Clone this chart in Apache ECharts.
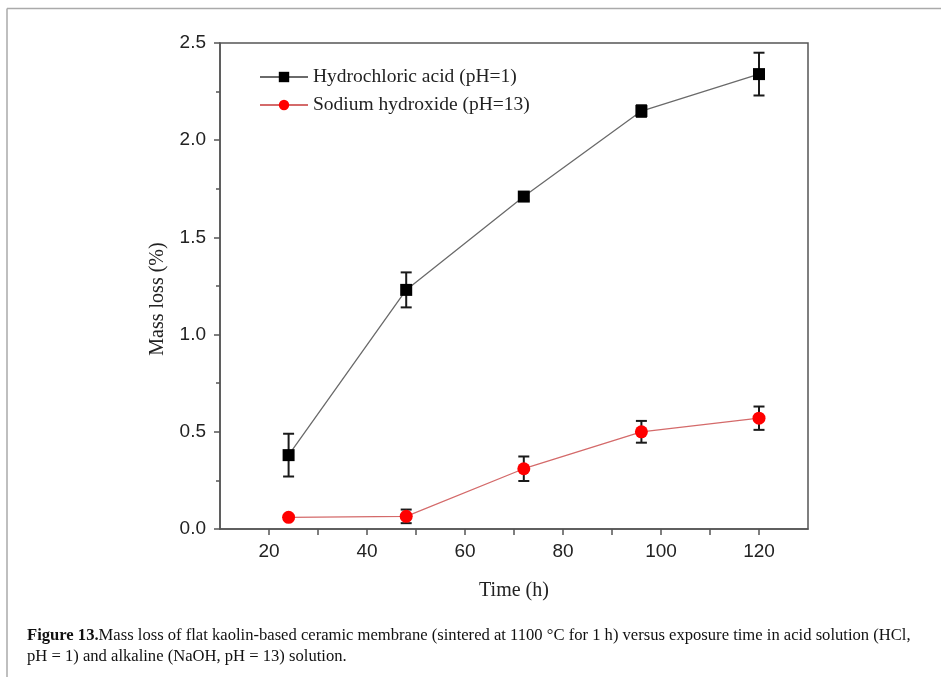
<!DOCTYPE html>
<html>
<head>
<meta charset="utf-8">
<script src="https://cdn.jsdelivr.net/npm/echarts@6/dist/echarts.min.js"></script>
<style>html,body{margin:0;padding:0;background:#fff}#c{width:941px;height:677px}</style>
</head>
<body>
<div id="c"></div>
<script>
const timeH = [24, 48, 72, 96, 120];
const hclLoss = [0.38, 1.23, 1.71, 2.15, 2.34];
const hclErr = [0.11, 0.09, 0.02, 0.03, 0.11];
const naohLoss = [0.06, 0.065, 0.31, 0.50, 0.57];
const naohErr = [0.01, 0.035, 0.063, 0.056, 0.06];
const xLabels = [20, 40, 60, 80, 100, 120];
const xTicks = [20, 30, 40, 50, 60, 70, 80, 90, 100, 110, 120];
const seriesNames = ['Hydrochloric acid (pH=1)', 'Sodium hydroxide (pH=13)'];

function pts(ys) { return timeH.map((t, i) => [t, ys[i]]); }
function errs(ys, es) { return timeH.map((t, i) => [t, ys[i] - es[i], ys[i] + es[i]]); }

function errRender(params, api) {
  const x = api.value(0);
  const lo = api.coord([x, api.value(1)]);
  const hi = api.coord([x, api.value(2)]);
  const w = 5.5;
  const st = { stroke: '#1a1a1a', lineWidth: 2 };
  return {
    type: 'group',
    children: [
      { type: 'line', shape: { x1: lo[0], y1: lo[1], x2: hi[0], y2: hi[1] }, style: st },
      { type: 'line', shape: { x1: lo[0] - w, y1: lo[1], x2: lo[0] + w, y2: lo[1] }, style: st },
      { type: 'line', shape: { x1: hi[0] - w, y1: hi[1], x2: hi[0] + w, y2: hi[1] }, style: st }
    ]
  };
}

const chart = echarts.init(document.getElementById('c'), null, { renderer: 'canvas' });
const axisCol = '#555';
const sans = 'Liberation Sans';
const serif = 'Liberation Serif';

chart.setOption({
  animation: false,
  backgroundColor: '#fff',
  grid: { left: 220, right: 133, top: 43, bottom: 148, show: true, borderColor: axisCol, borderWidth: 1.5, containLabel: false },
  legend: {
    orient: 'vertical', left: 254, top: 62, itemGap: 8, itemWidth: 48, itemHeight: 13,
    textStyle: { fontFamily: serif, fontSize: 19.5, color: '#222' },
    data: seriesNames
  },
  xAxis: {
    type: 'value', min: 10, max: 130, interval: 10,
    name: 'Time (h)', nameLocation: 'middle', nameGap: 52,
    nameTextStyle: { fontFamily: serif, fontSize: 20, color: '#222' },
    axisLine: { show: true, onZero: false, lineStyle: { color: axisCol, width: 1.5 } },
    axisTick: { show: true, inside: false, length: 6, customValues: xTicks, lineStyle: { color: axisCol, width: 1.5 } },
    axisLabel: { customValues: xLabels, margin: 13, fontFamily: sans, fontSize: 19, color: '#222' },
    splitLine: { show: false }
  },
  yAxis: {
    type: 'value', min: 0, max: 2.5, interval: 0.5,
    name: 'Mass loss (%)', nameLocation: 'middle', nameGap: 52,
    nameTextStyle: { fontFamily: serif, fontSize: 20, color: '#222', padding: [0, 26, 0, 0] },
    axisLine: { show: true, onZero: false, lineStyle: { color: axisCol, width: 1.5 } },
    axisTick: { show: true, inside: false, length: 6, lineStyle: { color: axisCol, width: 1.5 } },
    minorTick: { show: true, splitNumber: 2, length: 4, lineStyle: { color: axisCol, width: 1.5 } },
    axisLabel: { margin: 14, fontFamily: sans, fontSize: 19, color: '#222', formatter: v => v.toFixed(1) },
    splitLine: { show: false }
  },
  series: [
    {
      type: 'custom', name: 'errHcl', renderItem: errRender, data: errs(hclLoss, hclErr),
      encode: { x: 0, y: [1, 2] }, z: 1, silent: true
    },
    {
      type: 'custom', name: 'errNaoh', renderItem: errRender, data: errs(naohLoss, naohErr),
      encode: { x: 0, y: [1, 2] }, z: 1, silent: true
    },
    {
      type: 'line', name: seriesNames[0], data: pts(hclLoss), z: 3,
      symbol: 'rect', symbolSize: 12,
      itemStyle: { color: '#000' },
      lineStyle: { color: '#6a6a6a', width: 1.3 }
    },
    {
      type: 'line', name: seriesNames[1], data: pts(naohLoss), z: 3,
      symbol: 'circle', symbolSize: 13,
      itemStyle: { color: '#ff0000' },
      lineStyle: { color: '#d46a6a', width: 1.3 }
    }
  ],
  graphic: [
    { type: 'line', shape: { x1: 7, y1: 8.5, x2: 941, y2: 8.5 }, style: { stroke: '#aaa', lineWidth: 1.5 } },
    { type: 'line', shape: { x1: 7, y1: 8.5, x2: 7, y2: 677 }, style: { stroke: '#aaa', lineWidth: 1.5 } },
    {
      type: 'text', left: 27, top: 625,
      style: {
        text: '{b|Figure 13.}{n|Mass loss of flat kaolin-based ceramic membrane (sintered at 1100 °C for 1 h) versus exposure time in acid solution (HCl,}\n{n|pH = 1) and alkaline (NaOH, pH = 13) solution.}',
        lineHeight: 21,
        rich: {
          b: { fontFamily: serif, fontSize: 16.6, fontWeight: 'bold', fill: '#111', lineHeight: 21 },
          n: { fontFamily: serif, fontSize: 16.6, fill: '#111', lineHeight: 21 }
        }
      }
    }
  ]
});
</script>
</body>
</html>
